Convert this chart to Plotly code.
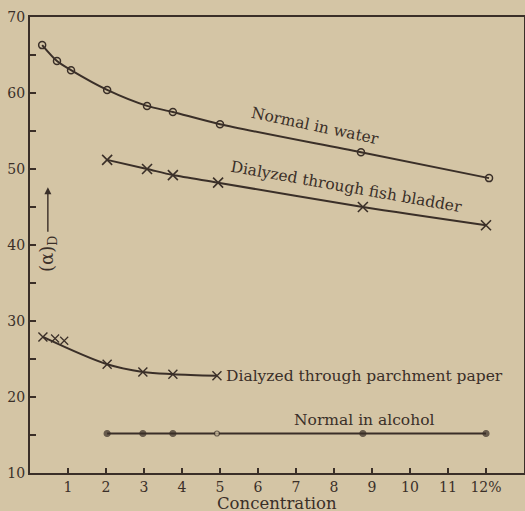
import plotly.graph_objects as go

# Normal in water (open circles)
water_x = [0.32, 0.71, 1.08, 2.03, 3.08, 3.76, 5.0, 8.71, 12.08]
water_y = [66.3, 64.2, 63.0, 60.4, 58.3, 57.5, 55.9, 52.2, 48.8]

# Dialyzed through fish bladder (x marks)
fish_x = [2.03, 3.08, 3.76, 4.95, 8.76, 12.0]
fish_y = [51.2, 50.0, 49.2, 48.2, 45.0, 42.6]

# Dialyzed through parchment paper (x marks)
parch_line_x = [0.34, 2.03, 2.97, 3.76, 4.92]
parch_line_y = [27.9, 24.3, 23.3, 23.0, 22.8]
parch_extra_x = [0.66, 0.9]
parch_extra_y = [27.7, 27.4]

# Normal in alcohol (dots, one open)
alc_x = [2.03, 2.97, 3.76, 4.92, 8.76, 12.0]
alc_y = [15.2, 15.2, 15.2, 15.2, 15.2, 15.2]
alc_open = [False, False, False, True, False, False]

x_ticks = list(range(1, 13))
x_tick_labels = [str(i) for i in range(1, 12)] + ["12%"]
y_ticks = list(range(10, 71, 5))
y_tick_labels = [str(v) if v % 10 == 0 else "" for v in y_ticks]

ink = "#3a2f28"
bg = "#d4c5a5"
font = "DejaVu Serif, Liberation Serif, serif"

fig = go.Figure()
fig.add_trace(go.Scatter(x=water_x, y=water_y, mode="lines+markers",
                         line=dict(color=ink, width=2, shape="spline", smoothing=0.8),
                         marker=dict(symbol="circle-open", size=7, color=ink, line=dict(width=1.5))))
fig.add_trace(go.Scatter(x=fish_x, y=fish_y, mode="lines+markers",
                         line=dict(color=ink, width=2, shape="spline", smoothing=0.8),
                         marker=dict(symbol="x-thin", size=10, color=ink, line=dict(width=1.6, color=ink))))
fig.add_trace(go.Scatter(x=parch_line_x, y=parch_line_y, mode="lines+markers",
                         line=dict(color=ink, width=2, shape="spline", smoothing=1.0),
                         marker=dict(symbol="x-thin", size=9, color=ink, line=dict(width=1.4, color=ink))))
fig.add_trace(go.Scatter(x=parch_extra_x, y=parch_extra_y, mode="markers",
                         marker=dict(symbol="x-thin", size=8, color=ink, line=dict(width=1.2, color=ink))))
fig.add_trace(go.Scatter(x=alc_x, y=alc_y, mode="lines+markers",
                         line=dict(color=ink, width=1.8),
                         marker=dict(symbol="circle",
                                     size=[5 if o else 6 for o in alc_open],
                                     color=[bg if o else ink for o in alc_open],
                                     line=dict(width=1.2, color=ink))))

ann_font = dict(family=font, size=15.5, color=ink)
annotations = [
    dict(x=7.5, y=55.6, text="Normal in water", textangle=12, showarrow=False, font=ann_font),
    dict(x=8.32, y=47.6, text="Dialyzed through fish bladder", textangle=10, showarrow=False, font=ann_font),
    dict(x=5.1, y=22.8, text="Dialyzed through parchment paper", xanchor="left", showarrow=False, font=ann_font),
    dict(x=8.8, y=17.0, text="Normal in alcohol", showarrow=False, font=ann_font),
    dict(x=0.47, y=38.8, text="(α)<sub>D</sub>", textangle=-90, showarrow=False,
         font=dict(family=font, size=18, color=ink)),
    dict(x=0.47, y=47.6, ax=0, ay=46, text="", showarrow=True, arrowhead=2, arrowsize=1,
         arrowwidth=1.4, arrowcolor=ink, xref="x", yref="y"),
    dict(x=0.5, y=-0.067, xref="paper", yref="paper", yanchor="middle", text="Concentration",
         showarrow=False, font=dict(family=font, size=16.5, color=ink)),
]

fig.update_layout(
    width=525, height=511,
    margin=dict(l=30, r=1, t=17, b=38),
    paper_bgcolor=bg, plot_bgcolor=bg,
    showlegend=False,
    font=dict(family=font, color=ink),
    annotations=annotations,
)
fig.update_xaxes(range=[0, 13], tickvals=x_ticks, ticktext=x_tick_labels, ticks="inside",
                 ticklen=5, tickwidth=1.5, tickcolor=ink, showgrid=False, zeroline=False,
                 showline=True, linecolor=ink, linewidth=2, mirror=True, automargin=False,
                 tickfont=dict(family=font, size=14, color=ink))
fig.update_yaxes(range=[10, 70], tickvals=y_ticks, ticktext=y_tick_labels, ticks="inside",
                 ticklen=6, tickwidth=1.5, tickcolor=ink, showgrid=False, zeroline=False,
                 showline=True, linecolor=ink, linewidth=2, mirror=True, automargin=False,
                 tickfont=dict(family=font, size=14, color=ink))

fig.write_html("out.html", config={"displayModeBar": False},
               post_script="document.body.style.margin='0px';document.body.style.padding='0px';")
